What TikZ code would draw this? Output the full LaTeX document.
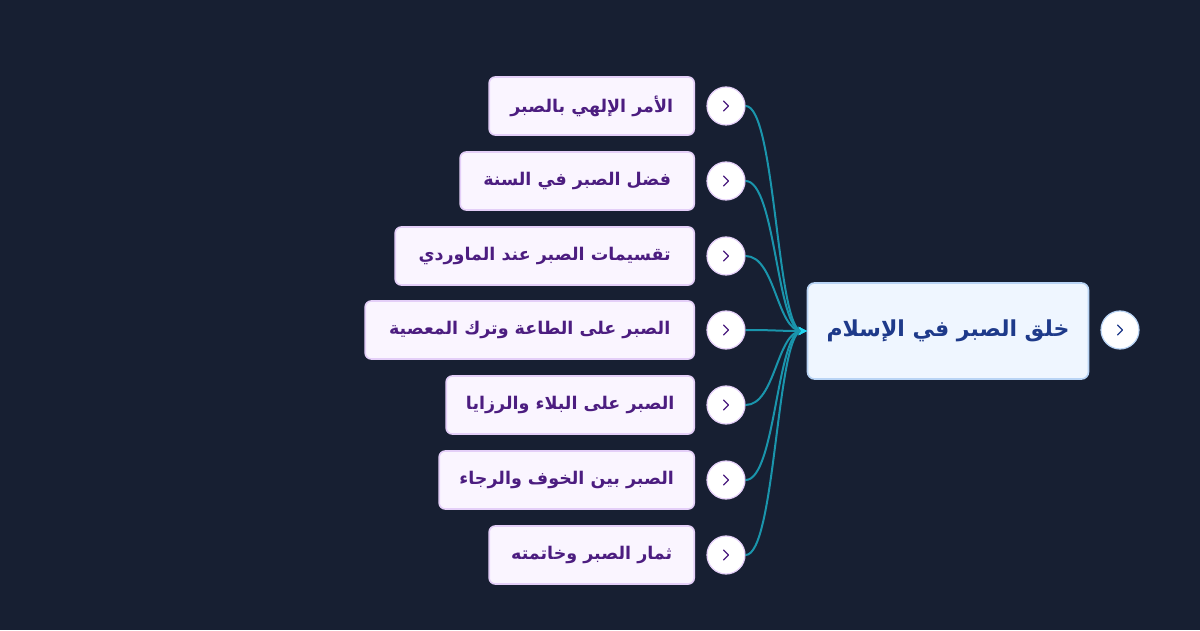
\documentclass[tikz,border=0pt]{standalone}
\usepackage{fontspec}
\newfontfamily\arabicfont[Script=Arabic]{DejaVu Sans}
\TeXXeTstate=1
\usetikzlibrary{arrows.meta}
\definecolor{bg}{HTML}{171F32}
\definecolor{kidfill}{HTML}{FAF5FF}
\definecolor{kidline}{HTML}{E4CFF8}
\definecolor{kidtext}{HTML}{4C1D80}
\definecolor{rootfill}{HTML}{EFF6FF}
\definecolor{rootline}{HTML}{B9D4F5}
\definecolor{roottext}{HTML}{1E3A8A}
\definecolor{conncol}{HTML}{1A95AC}
\definecolor{tipcol}{HTML}{22D3EE}
\tikzset{
  x=1pt,y=1pt,
  kid/.style={draw=kidline,fill=kidfill,line width=1.6pt,rounded corners=6pt,minimum height=58pt,anchor=east,inner sep=0pt,text=kidtext,font=\arabicfont\bfseries\fontsize{17.5}{20}\selectfont},
  rootbox/.style={draw=rootline,fill=rootfill,line width=1.6pt,rounded corners=7pt,minimum height=96pt,minimum width=281pt,inner sep=0pt,text=roottext,font=\arabicfont\bfseries\fontsize{22}{26}\selectfont},
  btn/.style={circle,draw=kidline,fill=white,line width=1.2pt,minimum size=38pt,inner sep=0pt},
  chev/.style={line width=1.3pt,line cap=round,line join=round},
  conn/.style={draw=conncol,line width=2pt,-{Stealth[length=8pt,width=8pt,color=tipcol]}}
}
\begin{document}
\begin{tikzpicture}
\fill[bg] (0,0) rectangle (1200,630);
\useasboundingbox (0,0) rectangle (1200,630);
% root
\node[rootbox] (root) at (948,299) {\beginR خلق الصبر في الإسلام\endR};
\node[btn,draw=rootline] (rb) at (1120,300) {};
\draw[chev,roottext] ([shift={(-2.5,5)}]rb.center) -- ([shift={(2.5,0)}]rb.center) -- ([shift={(-2.5,-5)}]rb.center);
% children
\foreach \i/\y/\w/\t in {
 1/524/205/{الأمر الإلهي بالصبر},
 2/449/234/{فضل الصبر في السنة},
 3/374/299/{تقسيمات الصبر عند الماوردي},
 4/300/329/{الصبر على الطاعة وترك المعصية},
 5/225/248/{الصبر على البلاء والرزايا},
 6/150/255/{الصبر بين الخوف والرجاء},
 7/75/205/{ثمار الصبر وخاتمته}}{
  \node[kid,minimum width=\w pt] (k\i) at (695,\y) {\beginR \t\endR};
  \node[btn] (c\i) at (726,\y) {};
  \draw[chev,kidtext] ([shift={(-2.5,5)}]c\i.center) -- ([shift={(2.5,0)}]c\i.center) -- ([shift={(-2.5,-5)}]c\i.center);
  \draw[conn] (c\i.east) .. controls +(30,0) and +(-30,0) .. (root.west);
}
\end{tikzpicture}
\end{document}
